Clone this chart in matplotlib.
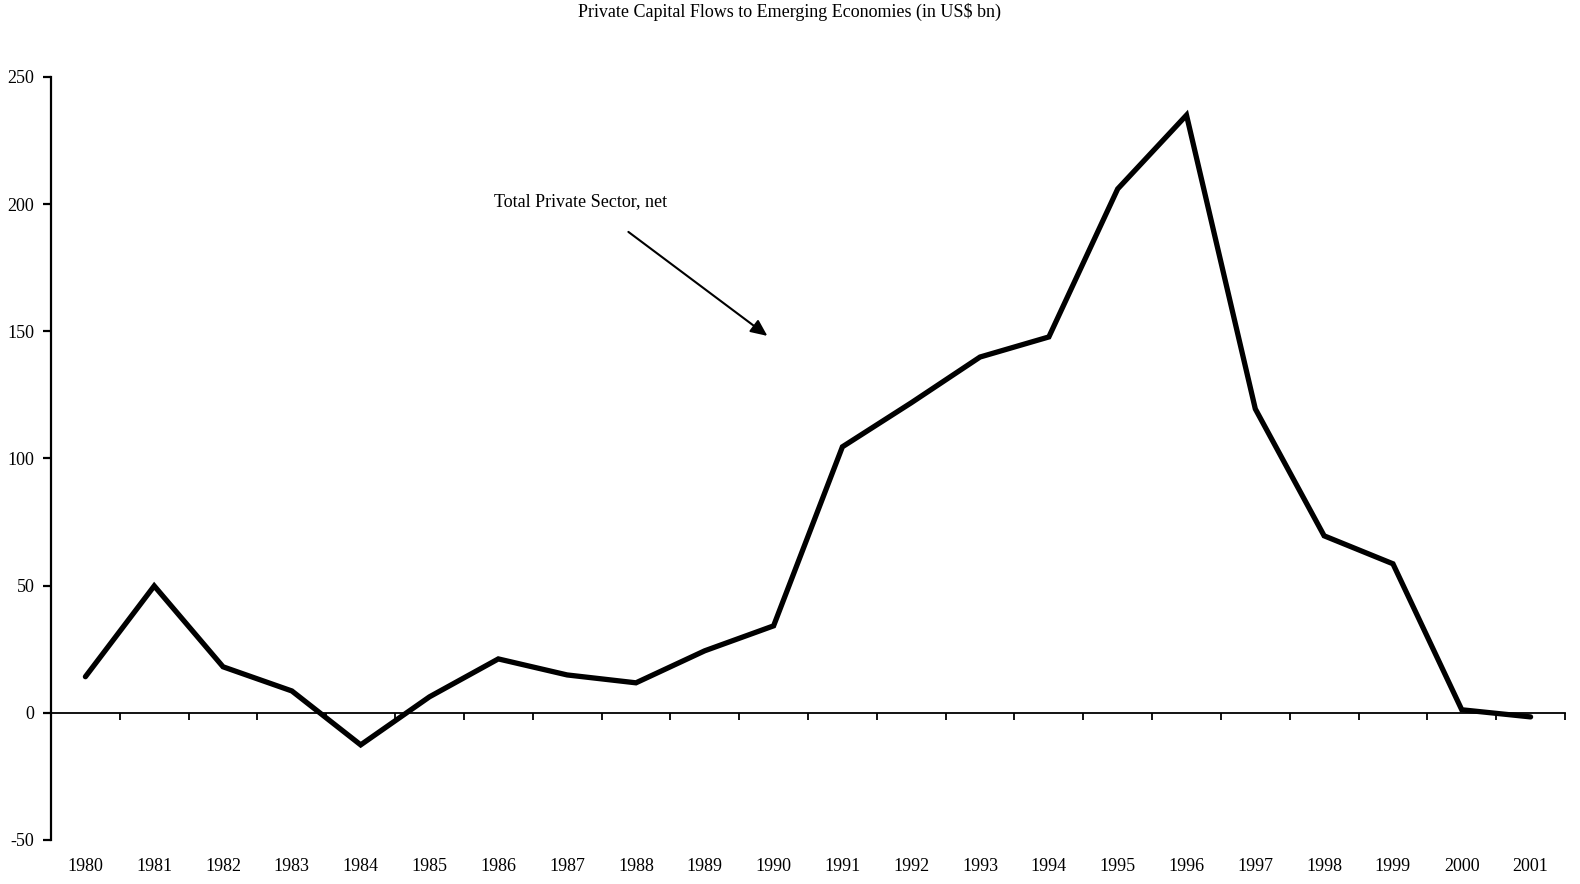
import matplotlib
matplotlib.use("Agg")
import matplotlib.pyplot as plt

years = list(range(1980, 2002))
flows = [14.2, 49.9, 18.1, 8.6, -12.6, 6.3, 21.2, 14.9, 11.8, 24.4, 34.2,
         104.6, 121.9, 139.9, 147.8, 206.0, 235.0, 119.5, 69.6, 58.6, 1.2, -1.6]
y_ticks = [-50, 0, 50, 100, 150, 200, 250]

title = "Private Capital Flows to Emerging Economies (in US$ bn)"
series_label = "Total Private Sector, net"

plt.rcParams["font.family"] = ["Liberation Serif", "DejaVu Serif"]

fig = plt.figure(figsize=(15.8, 8.84), dpi=100)
ax = fig.add_axes([51 / 1580, 1 - 840 / 884, (1565 - 51) / 1580, (840 - 77) / 884])

x = list(range(len(years)))
ax.plot(x, flows, color="black", lw=3.8, solid_joinstyle="miter", solid_capstyle="round")

ax.set_xlim(-0.5, len(years) - 0.5)
ax.set_ylim(-50, 250)

# spines: left axis, x axis through zero
for s in ["top", "right"]:
    ax.spines[s].set_visible(False)
ax.spines["left"].set_linewidth(1.6)
ax.spines["bottom"].set_position(("data", 0))
ax.spines["bottom"].set_linewidth(1.3)

ax.set_yticks(y_ticks)
ax.set_yticklabels([str(v) for v in y_ticks], fontsize=13)
ax.tick_params(axis="y", direction="out", length=6, width=1.6, pad=6)

# x ticks between categories, pointing down from the zero line
ax.set_xticks([i + 0.5 for i in x])
ax.set_xticklabels([])
ax.tick_params(axis="x", direction="out", length=5, width=1.3)

for i, yr in zip(x, years):
    ax.text(i, -0.035, str(yr), transform=ax.get_xaxis_transform(),
            ha="center", va="center", fontsize=13)

fig.text(0.5, 1 - 12 / 884, title, ha="center", va="center", fontsize=13)

ax.text(5.93, 201, series_label, ha="left", va="center", fontsize=13)
ax.annotate("", xy=(9.91, 148.2), xytext=(7.89, 189.1),
            arrowprops=dict(arrowstyle="-|>,head_length=1.0,head_width=0.45",
                            color="black", lw=1.5, shrinkA=0, shrinkB=0))

fig.savefig("out.png", dpi=100)
